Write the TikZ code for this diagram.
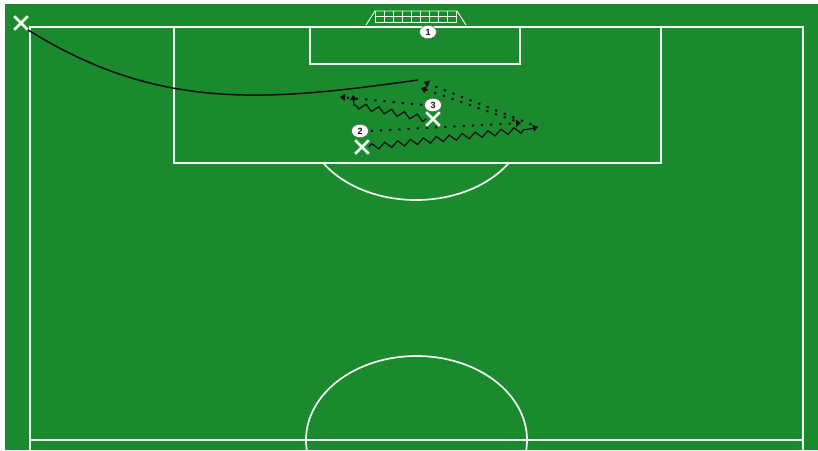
\documentclass[tikz,border=0pt]{standalone}
\usepackage{fontspec}
\setmainfont{Liberation Sans}
\usepackage{xcolor}
\usepackage{tikz}
\usetikzlibrary{arrows.meta, positioning, shapes.geometric, shapes.misc, decorations.pathmorphing}
\definecolor{pitch}{HTML}{1B892D}
\definecolor{chalk}{HTML}{F2FFF2}
\definecolor{ink}{HTML}{111111}

\begin{document}
\begin{tikzpicture}[
  x=1pt, y=-1pt,
  every node/.style={font=\bfseries\small, color=ink},
  mline/.style={draw=chalk, line width=1.7pt},
  mnet/.style={draw=chalk, line width=0.9pt},
  mplayer/.style={
    cross out, draw=chalk, line width=2.6pt,
    minimum size=11pt, inner sep=0pt
  },
  mnum/.style={
    ellipse, draw=ink!70, fill=white, line width=0.5pt,
    minimum width=17pt, minimum height=13.5pt, inner sep=0pt
  },
  mcross/.style={draw=ink, line width=1.5pt},
  mpass/.style={
    draw=ink, line width=2pt, dash pattern=on 2.2pt off 7pt,
    -{Triangle[width=7pt, length=5pt]}
  },
  mrun/.style={
    draw=ink, line width=1.2pt,
    decoration={zigzag, amplitude=3pt, segment length=13pt},
    -{Triangle[width=7pt, length=5pt]}
  }
]
\useasboundingbox (0,0) rectangle (818,450);
\fill[white] (0,0) rectangle (818,450);
\fill[pitch] (5,4) rectangle (818,450);

% pitch lines
\draw[mline] (30,450) -- (30,27) -- (803,27) -- (803,450);
\draw[mline] (30,440) -- (803,440);
\draw[mline] (174,27) rectangle (661,163);
\draw[mline] (310,27) rectangle (520,64);
\begin{scope}
  \clip (0,164) rectangle (818,450);
  \draw[mline] (416,120) ellipse [x radius=110, y radius=80];
\end{scope}
\begin{scope}
  \clip (0,0) rectangle (818,450);
  \draw[mline] (416.5,440) ellipse [x radius=110.5, y radius=84];
\end{scope}

% goal
\draw[mnet] (366,25) -- (375,11) -- (457,11) -- (466,25);
\draw[mnet] (375,22) -- (457,22);
\draw[mnet] (375,16.5) -- (457,16.5);
\foreach \i in {0,...,9}
  \draw[mnet] ({375+\i*9.1},11) -- ++(0,11);

% players
\node[mplayer] (x0) at (21,23) {};
\node[mplayer] (x3) at (433,119) {};
\node[mplayer] (x2) at (362,147) {};
\node[mnum] (n1) at (428,32) {1};
\node[mnum] (n3) at (433,105) {3};
\node[mnum] (n2) at (360,131) {2};

% ends of passes and runs
\coordinate (ball) at (418,80);
\coordinate (c3) at (354,105);
\coordinate (r3) at (353,95);
\coordinate (c2) at (530,129);
\coordinate (r2) at (538,127);
\coordinate (p3) at (340,97);
\coordinate (p2) at (521,123);
\coordinate (q1) at (424,82);
\coordinate (q2) at (421,88);

% cross
\draw[mcross] (x0.south east) to[out=-32, in=188] (ball);

% runs
\draw[mrun] decorate {(x3.west) -- (c3)} -- (r3);
\draw[mrun] decorate {(x2.east) -- (c2)} -- (r2);

% passes
\draw[mpass, shorten <=2pt] (n3.west) -- (p3);
\draw[mpass, shorten <=2pt] (n2.east) -- (p2);
\draw[mpass, shorten <=7pt] (r2) -- (q1);
\draw[mpass, shorten <=7pt] (p2) -- (q2);
\end{tikzpicture}
\end{document}
